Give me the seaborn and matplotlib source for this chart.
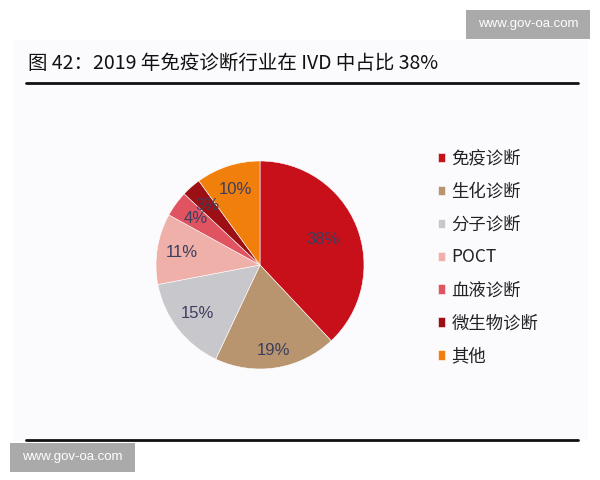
import matplotlib
matplotlib.use("Agg")
import matplotlib.pyplot as plt
import seaborn as sns
from matplotlib.patches import Rectangle
from matplotlib.lines import Line2D

# data
categories = ["免疫诊断", "生化诊断", "分子诊断", "POCT", "血液诊断", "微生物诊断", "其他"]
shares = [38, 19, 15, 11, 4, 3, 10]
colors = ["#c8101b", "#b8956f", "#c8c7cb", "#eeb0a8", "#e05462", "#9c1015", "#f07f0b"]
title = "图 42：2019 年免疫诊断行业在 IVD 中占比 38%"
watermark = "www.gov-oa.com"

sns.set_theme(style="white")
plt.rcParams["font.family"] = ["Noto Sans CJK SC", "DejaVu Sans"]

fig = plt.figure(figsize=(6, 4.8), dpi=100)
W, H = 600, 480

def fx(px):
    return px / W

def fy(py):
    return 1 - py / H

# light panel behind the chart
fig.add_artist(Rectangle((fx(13), fy(441)), fx(588) - fx(13), fy(40) - fy(441),
                         transform=fig.transFigure, facecolor="#fbfafd", edgecolor="none", zorder=0))

# title and rules
fig.text(fx(28), fy(63), title, fontsize=14, color="#111111", va="center", ha="left")
fig.add_artist(Line2D([fx(26), fx(578)], [fy(83), fy(83)], transform=fig.transFigure, color="#111111", lw=2))
fig.add_artist(Line2D([fx(26), fx(578)], [fy(440), fy(440)], transform=fig.transFigure, color="#111111", lw=2))

# watermarks
fig.add_artist(Rectangle((fx(466), fy(39)), fx(590) - fx(466), fy(10) - fy(39),
                         transform=fig.transFigure, facecolor="#aaaaaa", edgecolor="none"))
fig.text(fx(528), fy(24.5), watermark, fontsize=9.5, color="white", ha="center", va="center",
         family=["Liberation Sans", "DejaVu Sans"])
fig.add_artist(Rectangle((fx(10), fy(472)), fx(135) - fx(10), fy(443) - fy(472),
                         transform=fig.transFigure, facecolor="#aaaaaa", edgecolor="none"))
fig.text(fx(72), fy(457), watermark, fontsize=9.5, color="white", ha="center", va="center",
         family=["Liberation Sans", "DejaVu Sans"])

# pie
r = 104
cx, cy = 260, 265
ax = fig.add_axes([fx(cx - r), fy(cy + r), 2 * r / W, 2 * r / H])
wedges, texts, autotexts = ax.pie(
    shares, colors=colors, startangle=90, counterclock=False,
    autopct=lambda p: f"{p:.0f}%", pctdistance=0.76,
    wedgeprops=dict(edgecolor="white", linewidth=0.4),
    textprops=dict(fontsize=12, color="#3d3d5e", family=["Liberation Sans", "DejaVu Sans"]),
)
autotexts[0].set_position((autotexts[0].get_position()[0] * 0.86, autotexts[0].get_position()[1] * 0.86))
autotexts[1].set_position((autotexts[1].get_position()[0] * 1.1, autotexts[1].get_position()[1] * 1.1))
ax.set_aspect("equal")
ax.set_xlim(-1, 1)
ax.set_ylim(-1, 1)
ax.axis("off")

# legend
fig.legend(wedges, categories, loc="upper left", bbox_to_anchor=(fx(422), fy(134)),
           frameon=False, fontsize=12.5, handlelength=0.45, handleheight=0.45,
           handletextpad=0.35, labelspacing=0.86, labelcolor="#222222")

fig.savefig("out.png", dpi=100)
